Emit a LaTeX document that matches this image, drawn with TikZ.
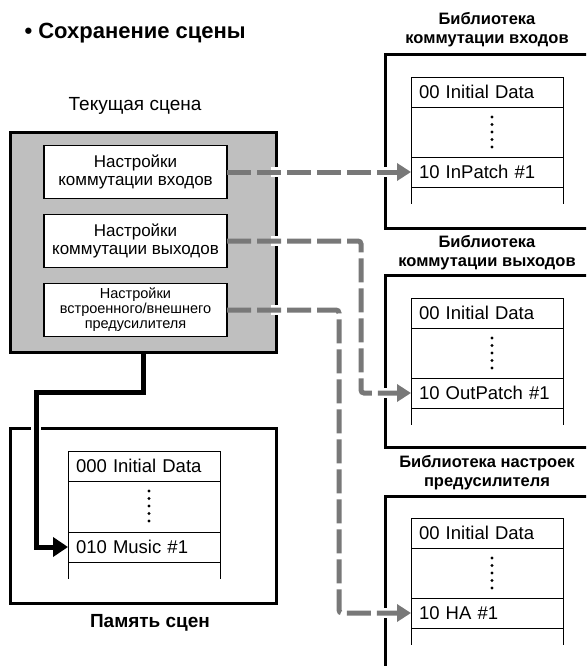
\documentclass[tikz,border=0pt]{standalone}
\usepackage{fontspec}
\setmainfont{Liberation Sans}
\usetikzlibrary{positioning, arrows.meta}
\definecolor{scenegray}{HTML}{BFBFBF}
\definecolor{patchgray}{HTML}{787878}

\begin{document}
\begin{tikzpicture}[x=1pt, y=-1pt,
  frame/.style={draw, line width=3pt, minimum width=266pt, outer sep=0pt},
  libframe/.style={draw, line width=3pt, anchor=north west, minimum width=215pt,
                   outer sep=0pt},
  setbox/.style={draw, line width=1.5pt, fill=white, minimum width=183pt,
                 minimum height=53pt, inner sep=1pt, align=center, outer sep=0pt,
                 font=\fontsize{17}{18}\selectfont},
  row/.style={draw, line width=0.9pt, minimum width=152pt, minimum height=30pt,
              inner xsep=8pt, inner ysep=0pt, text width=136pt, align=left,
              outer sep=0pt, font=\fontsize{18.5}{20}\selectfont},
  dotrow/.style={row, minimum height=50pt},
  libtitle/.style={align=center, font=\bfseries\fontsize{16.5}{19}\selectfont},
  patch/.style={draw=patchgray, line width=5pt, dash pattern=on 24pt off 6pt,
                rounded corners=3pt,
                -{Triangle[length=14pt, width=17pt, fill=patchgray]}},
  cut/.style={white, line width=10pt, shorten >=22pt},
  store/.style={line width=5pt, -{Triangle[length=15pt, width=19pt]}},
  node distance=0pt
]
\useasboundingbox (0,0) rectangle (586,666);
\clip (0,0) rectangle (586,666);

% title
\node[anchor=west, font=\bfseries\fontsize{22}{25}\selectfont] (head) at (21,33)
    {• Сохранение сцены};

% current scene
\node[font=\fontsize{19}{22}\selectfont] (curlabel) at (135,106) {Текущая сцена};
\node[frame, fill=scenegray, minimum height=220pt] (scene) at (143,242) {};
\node[setbox] (set1) at (135.5,172) {Настройки\\коммутации входов};
\node[setbox, below=16pt of set1] (set2) {Настройки\\коммутации выходов};
\node[setbox, below=16pt of set2, font=\fontsize{14.5}{15}\selectfont] (set3)
    {Настройки\\встроенного/внешнего\\предусилителя};

% scene memory
\node[frame, minimum height=175pt] (mem) at (143,515.5) {};
\node[row, anchor=north west] (mus-a) at (68,451) {000 Initial Data};
\node[dotrow, minimum height=51pt, below=of mus-a] (mus-b) {};
\node[row, below=of mus-b] (mus-c) {010 Music \#1};
\draw[line width=0.9pt] (mus-c.south west) -- ++(0,17);
\draw[line width=0.9pt] (mus-c.south east) -- ++(0,17);
\foreach \k in {0,...,4}
  \fill ([shift={(5,10+7.5*\k)}]mus-b.north) circle (1.7pt);
\node[font=\bfseries\fontsize{19}{22}\selectfont] (memlabel) at (150,623)
    {Память сцен};

% input patch library
\node[libframe, minimum height=173pt] (lib1) at (385,55) {};
\node[libtitle] (lib1t) at (487,30) {Библиотека\\коммутации входов};
\node[row, anchor=north west] (in-a) at (411,77) {00 Initial Data};
\node[dotrow, below=of in-a] (in-b) {};
\node[row, below=of in-b] (in-c) {10 InPatch \#1};
\draw[line width=0.9pt] (in-c.south west) -- ++(0,17);
\draw[line width=0.9pt] (in-c.south east) -- ++(0,17);
\foreach \k in {0,...,4}
  \fill ([shift={(5,10+7.5*\k)}]in-b.north) circle (1.7pt);

% output patch library
\node[libframe, minimum height=172pt] (lib2) at (385,275) {};
\node[libtitle] (lib2t) at (487,252.5) {Библиотека\\коммутации выходов};
\node[row, anchor=north west] (out-a) at (411,298) {00 Initial Data};
\node[dotrow, below=of out-a] (out-b) {};
\node[row, below=of out-b] (out-c) {10 OutPatch \#1};
\draw[line width=0.9pt] (out-c.south west) -- ++(0,17);
\draw[line width=0.9pt] (out-c.south east) -- ++(0,17);
\foreach \k in {0,...,4}
  \fill ([shift={(5,10+7.5*\k)}]out-b.north) circle (1.7pt);

% head amp library
\node[libframe, minimum height=190pt] (lib3) at (385,496) {};
\node[libtitle] (lib3t) at (487,472.5) {Библиотека настроек\\предусилителя};
\node[row, anchor=north west] (ha-a) at (411,518) {00 Initial Data};
\node[dotrow, below=of ha-a] (ha-b) {};
\node[row, below=of ha-b] (ha-c) {10 HA \#1};
\draw[line width=0.9pt] (ha-c.south west) -- ++(0,17);
\draw[line width=0.9pt] (ha-c.south east) -- ++(0,17);
\foreach \k in {0,...,4}
  \fill ([shift={(5,10+7.5*\k)}]ha-b.north) circle (1.7pt);

% connectors
\coordinate (bend2) at (361,300);
\coordinate (bend3) at (339,400);
\coordinate (drop) at (36,392);
\begin{scope}
  \clip (271,0) rectangle (600,666);
  \draw[cut] (set1.east) -- (in-c.west);
  \draw[cut] (set2.east) -| (bend2) |- (out-c.west);
  \draw[cut] (set3.east) -| (bend3) |- (ha-c.west);
\end{scope}
\draw[patch] (set1.east) -- (in-c.west);
\draw[patch] (set2.east) -| (bend2) |- (out-c.west);
\draw[patch] (set3.east) -| (bend3) |- (ha-c.west);

\draw[white, line width=10pt] ([yshift=8pt]drop |- mem.north)
    -- ([yshift=-8pt]drop |- mem.north);
\draw[store] (scene.south) |- (drop) |- (mus-c.west);
\end{tikzpicture}
\end{document}
